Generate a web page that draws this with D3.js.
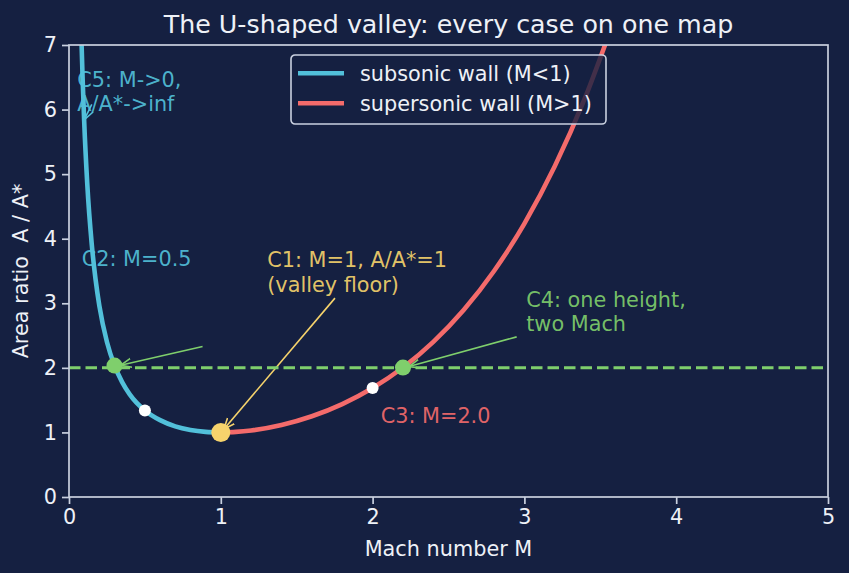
<!DOCTYPE html>
<head>
  <meta charset="utf-8">
  <script src="https://d3js.org/d3.v7.min.js"></script>
  <style>
    body { margin:0; background:#152041; font-family:"DejaVu Sans", sans-serif; }
    svg text { fill:#eef1f7; }
  </style>
</head>
<body>
  <script>
    // subsonic branch (M < 1)
    var subM = [0.083, 0.09, 0.1, 0.12, 0.15, 0.175, 0.2, 0.25, 0.3, 0.35, 0.4, 0.5, 0.6, 0.7, 0.8, 0.9, 1.0];
    var subA = [7.00, 6.46, 5.82, 4.86, 3.91, 3.37, 2.96, 2.40, 2.035, 1.78, 1.59, 1.34, 1.19, 1.094, 1.038, 1.009, 1.0];
    // supersonic branch (M > 1)
    var supM = [1.0, 1.1, 1.2, 1.4, 1.6, 1.8, 2.0, 2.2, 2.4, 2.6, 2.8, 3.0, 3.2, 3.4, 3.6];
    var supA = [1.0, 1.008, 1.03, 1.115, 1.25, 1.439, 1.688, 2.005, 2.403, 2.896, 3.50, 4.235, 5.121, 6.184, 7.45];
    // marked cases
    var caseM = [0.3, 0.5, 1.0, 2.0, 2.2];
    var caseA = [2.035, 1.34, 1.0, 1.688, 2.005];
    var caseKind = ["pair", "plain", "floor", "plain", "pair"];
    var levelA = 2;
    var xTicks = [0, 1, 2, 3, 4, 5];
    var yTicks = [0, 1, 2, 3, 4, 5, 6, 7];

    var cCyan = "#52c0da", cRed = "#f46b6b", cYellow = "#f6d36c", cGreen = "#7fcf6c";
    var fs = 20.8;

    var margin = { top: 45, right: 21, bottom: 76, left: 69 };
    var W = 849, H = 573;
    var width = W - margin.left - margin.right;
    var height = H - margin.top - margin.bottom;

    var root = d3.select("body").append("svg")
      .attr("width", W).attr("height", H);
    root.append("rect").attr("width", W).attr("height", H).attr("fill", "#152041");

    var defs = root.append("defs");
    defs.append("clipPath").attr("id", "plotclip")
      .append("rect").attr("width", width).attr("height", height);
    [["arrY", cYellow], ["arrG", cGreen], ["arrC", cCyan]].forEach(function(m) {
      defs.append("marker")
        .attr("id", m[0]).attr("viewBox", "0 -6 12 12")
        .attr("refX", 11).attr("refY", 0)
        .attr("markerWidth", 12).attr("markerHeight", 12)
        .attr("markerUnits", "userSpaceOnUse")
        .attr("orient", "auto")
        .append("path").attr("d", "M0,-4.5L11,0L0,4.5")
        .attr("fill", "none").attr("stroke", m[1]).attr("stroke-width", 1.6);
    });

    var svg = root.append("g")
      .attr("transform", "translate(" + margin.left + "," + margin.top + ")");

    var x = d3.scaleLinear().domain([0, 5]).range([0, width]);
    var y = d3.scaleLinear().domain([0, 7]).range([height, 0]);

    // labels (sit under the curves)
    function label(lines, mx, my, col) {
      var t = svg.append("text")
        .attr("x", x(mx)).attr("y", y(my))
        .style("font-size", fs + "px").style("fill", col).style("fill-opacity", 0.93);
      lines.forEach(function(s, i) {
        t.append("tspan").attr("x", x(mx)).attr("dy", i == 0 ? 0 : 24.5).text(s);
      });
    }
    label(["C5: M->0,", "A/A*->inf"], 0.055, 6.355, cCyan);
    label(["C2: M=0.5"], 0.084, 3.58, cCyan);
    label(["C1: M=1, A/A*=1", "(valley floor)"], 1.306, 3.557, cYellow);
    label(["C4: one height,", "two Mach"], 3.012, 2.947, cGreen);
    label(["C3: M=2.0"], 2.053, 1.141, cRed);

    // annotation arrows
    function arrow(x0, y0, x1, y1, col, id) {
      svg.append("line")
        .attr("x1", x(x0)).attr("y1", y(y0))
        .attr("x2", x(x1)).attr("y2", y(y1))
        .attr("stroke", col).attr("stroke-width", 1.6)
        .attr("marker-end", "url(#" + id + ")");
    }
    arrow(1.752, 3.08, 1.02, 1.05, cYellow, "arrY");
    arrow(2.949, 2.48, 2.24, 2.02, cGreen, "arrG");
    arrow(0.88, 2.33, 0.34, 2.04, cGreen, "arrG");
    arrow(0.15, 6.08, 0.1, 5.84, cCyan, "arrC");

    var plot = svg.append("g").attr("clip-path", "url(#plotclip)");

    // horizontal level line
    plot.append("line")
      .attr("x1", 0).attr("x2", width)
      .attr("y1", y(levelA)).attr("y2", y(levelA))
      .attr("stroke", cGreen).attr("stroke-width", 3)
      .attr("stroke-dasharray", "11.5,5");

    var line = d3.line()
      .x(function(d) { return x(d[0]); })
      .y(function(d) { return y(d[1]); })
      .curve(d3.curveMonotoneX);

    plot.append("path")
      .datum(d3.zip(subM, subA))
      .attr("d", line)
      .attr("fill", "none").attr("stroke", cCyan).attr("stroke-width", 4.6);

    plot.append("path")
      .datum(d3.zip(supM, supA))
      .attr("d", line)
      .attr("fill", "none").attr("stroke", cRed).attr("stroke-width", 4.6);

    // points
    svg.selectAll(".case")
      .data(d3.range(caseM.length))
      .enter().append("circle")
      .attr("class", "case")
      .attr("cx", function(i) { return x(caseM[i]); })
      .attr("cy", function(i) { return y(caseA[i]); })
      .attr("r", function(i) { return caseKind[i] == "floor" ? 9.5 : caseKind[i] == "pair" ? 8 : 6; })
      .attr("fill", function(i) { return caseKind[i] == "floor" ? cYellow : caseKind[i] == "pair" ? cGreen : "#ffffff"; });

    // frame + axes
    var axisCol = "#c9d0df";
    svg.append("rect")
      .attr("width", width).attr("height", height)
      .attr("fill", "none").attr("stroke", axisCol).attr("stroke-width", 1.7);

    var xa = svg.append("g")
      .attr("transform", "translate(0," + height + ")")
      .call(d3.axisBottom(x).tickValues(xTicks).tickFormat(d3.format("d")).tickSize(7).tickPadding(5));
    var ya = svg.append("g")
      .call(d3.axisLeft(y).tickValues(yTicks).tickFormat(d3.format("d")).tickSize(7).tickPadding(5));
    [xa, ya].forEach(function(a) {
      a.select(".domain").remove();
      a.selectAll("line").attr("stroke", axisCol).attr("stroke-width", 1.7);
      a.selectAll("text").style("font-size", fs + "px").style("fill", "#eef1f7")
        .attr("font-family", "DejaVu Sans");
    });

    svg.append("text")
      .attr("x", width / 2).attr("y", 556 - margin.top)
      .attr("text-anchor", "middle")
      .style("font-size", fs + "px")
      .text("Mach number M");

    svg.append("text")
      .attr("transform", "translate(" + (28 - margin.left) + "," + (height / 2) + ") rotate(-90)")
      .attr("text-anchor", "middle")
      .style("font-size", fs + "px")
      .style("white-space", "pre")
      .text("Area ratio  A / A*");

    svg.append("text")
      .attr("x", width / 2).attr("y", 33 - margin.top)
      .attr("text-anchor", "middle")
      .style("font-size", "25.3px")
      .text("The U-shaped valley: every case on one map");

    // legend
    var lg = svg.append("g").attr("transform", "translate(" + (291 - margin.left) + "," + (55 - margin.top) + ")");
    lg.append("rect")
      .attr("width", 315).attr("height", 69).attr("rx", 4)
      .attr("fill", "#152041").attr("fill-opacity", 0.8)
      .attr("stroke", axisCol).attr("stroke-width", 1.6);
    var items = [["subsonic wall (M<1)", cCyan], ["supersonic wall (M>1)", cRed]];
    items.forEach(function(it, i) {
      var gy = 18.3 + i * 30;
      lg.append("line").attr("x1", 7).attr("x2", 53).attr("y1", gy).attr("y2", gy)
        .attr("stroke", it[1]).attr("stroke-width", 4.6);
      lg.append("text").attr("x", 69).attr("y", gy + 7.5)
        .style("font-size", fs + "px").text(it[0]);
    });
  </script>
</body>
